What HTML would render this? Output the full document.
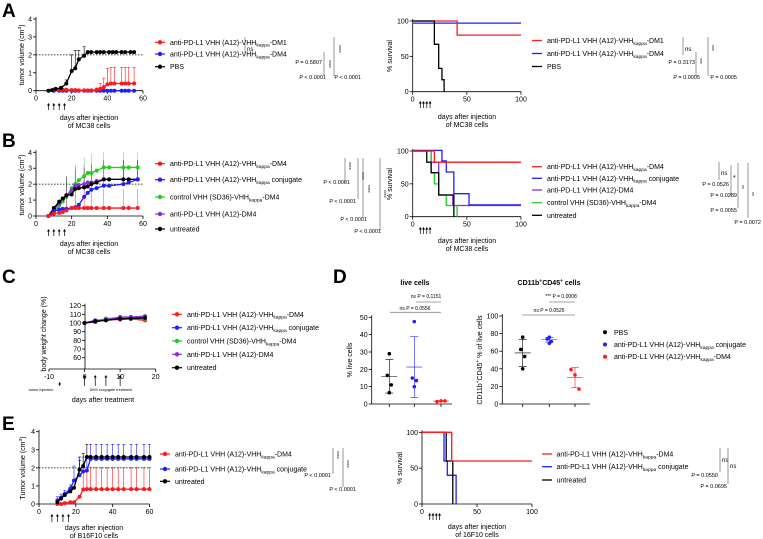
<!DOCTYPE html>
<html><head><meta charset="utf-8"><style>
html,body{margin:0;padding:0;background:#fff}
svg{display:block;font-family:"Liberation Sans",sans-serif}
</style></head><body>
<svg id="fig" width="763" height="539" viewBox="0 0 763 539">
<text x="2" y="17" font-size="19" font-weight="bold">A</text>
<text x="2" y="147" font-size="19" font-weight="bold">B</text>
<text x="2" y="283" font-size="19" font-weight="bold">C</text>
<text x="333" y="283" font-size="19" font-weight="bold">D</text>
<text x="2" y="430" font-size="19" font-weight="bold">E</text>
</svg>
<script>
// ---------- DATA ----------
const A_pbs_days=[7,9,11,14,17,20,22,24,27,29,31,34,36,38,41,43,45,48,50,53,55];
const A_pbs_vals=[0,0.03,0.1,0.15,0.4,1.1,1.25,1.75,1.95,2.15,2.15,2.15,2.15,2.15,2.15,2.15,2.15,2.15,2.15,2.15,2.15];
const A_pbs_err=[0,0,0,0.1,0.2,0.9,1.0,0.5,0.5,0,0,0,0,0,0,0,0,0,0,0,0];
const A_dm1_days=[10,13,15,17,20,22,24,27,29,31,34,36,38,40,42,44,48,50,52,55];
const A_dm1_vals=[0.05,0.05,0.05,0.05,0.03,0.03,0.02,0.02,0.02,0.02,0.05,0.1,0.2,0.35,0.4,0.4,0.4,0.4,0.4,0.4];
const A_dm1_err=[0,0,0,0,0,0,0,0,0,0,0.1,0.3,0.5,0.9,0.9,0.9,0.9,0.9,0.9,0.9];
const A_dm4_days=[10,13,15,17,20,22,24,27,29,31,34,36,38,40,42,44,48,50,52,55];
const A_dm4_vals=[0,0,0,0,0,0,0,0,0,0,0,0,0,0,0,0,0,0,0,0];
const A_surv_dm1_t=[0,41,100]; const A_surv_dm1_v=[100,80,80];
const A_surv_dm4_t=[0,100]; const A_surv_dm4_v=[97,97];
const A_surv_pbs_t=[0,20,24,27,29]; const A_surv_pbs_v=[100,67,33,17,0];

const B_days=[7,10,13,15,17,20,22,24,27,29,31,34,38,41,49,52,57];
const B_red=[0,0.15,0.2,0.25,0.35,0.5,0.5,0.5,0.5,0.5,0.5,0.5,0.5,0.5,0.5,0.5,0.5];
const B_blue=[0,0.3,0.4,0.45,0.45,0.5,0.55,0.7,1.2,1.45,1.65,1.75,1.9,1.9,2.0,2.1,2.3];
const B_green=[0,0.3,0.65,0.9,1.2,1.75,2.0,2.25,2.5,2.7,2.7,2.85,3.05,3.05,3.05,3.05,3.05];
const B_purple=[0,0.4,0.8,1.1,1.25,1.6,1.9,1.95,2.0,2.1,2.1,2.2,2.3,2.3,2.3,2.3,2.3];
const B_black=[0,0.5,0.9,1.1,1.3,1.35,1.7,1.75,1.8,1.85,2.0,2.1,2.3,2.3,2.3,2.3,2.3];
const B_surv_red_t=[0,20,100]; const B_surv_red_v=[100,83,83];
const B_surv_blue_t=[0,27,31,38,52,100]; const B_surv_blue_v=[101,85,68,35,18,18];
const B_surv_purple_t=[0,17,24,37,100]; const B_surv_purple_v=[100,83,33,17,17];
const B_surv_green_t=[0,17,20,24,31,41]; const B_surv_green_v=[100,67,50,33,17,0];
const B_surv_black_t=[0,13,17,24,38]; const B_surv_black_v=[100,83,67,33,0];

const C_days=[0,3,6,10,13,17];
const C_red=[100,101,104,104,105,103];
const C_blue=[100,103,104,105,106,106];
const C_green=[100,102,105,106,105,105];
const C_purple=[100,102,104,107,107,108];
const C_black=[100,102,103,105,105,106];

const D_live_pbs=[29,16.5,11,6.5]; const D_live_pbs_mean=16; const D_live_pbs_sd=9.7;
const D_live_conj=[47.5,15,13.5,10]; const D_live_conj_mean=21.3; const D_live_conj_sd=17.5;
const D_live_dm4=[1.4,1.8,1.8]; const D_live_dm4_mean=1.7; const D_live_dm4_sd=0.2;
const D_cd_pbs=[76,62,54,40]; const D_cd_pbs_mean=58; const D_cd_pbs_sd=15.5;
const D_cd_conj=[76,74,71,69]; const D_cd_conj_mean=73; const D_cd_conj_sd=2.5;
const D_cd_dm4=[39,33,17]; const D_cd_dm4_mean=30; const D_cd_dm4_sd=11.5;

const E_days=[10,12,14,17,19,22,24,26,28,31,34,37,40,43,46,50,53,57,60];
const E_red=[0,0,0.05,0.1,0.1,0.4,0.8,0.82,0.82,0.82,0.82,0.82,0.82,0.82,0.82,0.82,0.82,0.82,0.82];
const E_blue=[0.2,0.35,0.55,0.85,1.3,1.6,1.8,1.85,2.5,2.5,2.5,2.5,2.5,2.5,2.5,2.5,2.5,2.5,2.5];
const E_black=[0.1,0.3,0.5,0.7,0.9,1.9,2.1,2.6,2.6,2.6,2.6,2.6,2.6,2.6,2.6,2.6,2.6,2.6,2.6];
const E_surv_red_t=[0,27,100]; const E_surv_red_v=[100,60,60];
const E_surv_blue_t=[0,20,23,31]; const E_surv_blue_v=[100,60,40,0];
const E_surv_black_t=[0,22,28]; const E_surv_black_v=[100,60,0];

const RED='#ff1a1a',BLUE='#1f1fff',GREEN='#22cc22',PURPLE='#8a2be2',BLACK='#000';

// ---------- HELPERS ----------
const NS='http://www.w3.org/2000/svg';
const svg=document.getElementById('fig');
function mk(tag,attrs,parent,name){
  const e=document.createElementNS(NS,tag);
  for(const k in attrs)e.setAttribute(k,attrs[k]);
  
  
  (parent||svg).appendChild(e);return e;
}
function txt(x,y,s,size,parent,name,anchor,extra){
  size=size||7;
  const t=mk('text',Object.assign({x:x,y:y,'font-size':size,'text-anchor':anchor||'start',fill:'#000'},extra||{}),parent,name);
  const parts=s.split(/(\{[^}]*\})/);
  let shift=0;
  parts.forEach(p=>{
    if(!p)return;
    const ts=document.createElementNS(NS,'tspan');
    let target=0;
    if(p[0]=='{'){
      const inner=p.slice(1,-1);
      const sup=inner[0]=='^';
      ts.textContent=sup?inner.slice(1):inner;
      ts.setAttribute('font-size',size*0.7);
      target=sup?-size*0.4:size*0.25;
    }else ts.textContent=p;
    if(target!==shift){ts.setAttribute('dy',target-shift);shift=target;}
    t.appendChild(ts);
  });
  return t;
}
function line(x1,y1,x2,y2,parent,name,stroke,w,dash){
  const a={x1:x1,y1:y1,x2:x2,y2:y2,stroke:stroke||'#000','stroke-width':w||0.8};
  if(dash)a['stroke-dasharray']=dash;
  return mk('line',a,parent,name);
}
function scales(c){
  return {sx:v=>c.x0+(v-c.xmin)/(c.xmax-c.xmin)*(c.x1-c.x0),
          sy:v=>c.y0-(v-c.ymin)/(c.ymax-c.ymin)*(c.y0-c.y1)};
}
function axes(c,g,prefix){
  const s=scales(c);
  const ax=c.yAxisX!==undefined?c.yAxisX:c.x0;
  const yb=c.axisBottom!==undefined?c.axisBottom:c.y0;
  line(ax,yb,ax,c.y1-2,g,prefix+'-y-axis');
  line(c.x0,yb,c.x1,yb,g,prefix+'-x-axis');
  c.yticks.forEach(v=>{const y=s.sy(v);line(ax-3,y,ax,y,g,prefix+'-y-tick');
    txt(ax-4,y+2.5,String(v),7,g,prefix+'-y-tick-label','end');});
  (c.xticks||[]).forEach(v=>{const x=s.sx(v);line(x,yb,x,yb+3,g,prefix+'-x-tick');
    txt(x,yb+10,String(v),7,g,prefix+'-x-tick-label','middle');});
  return s;
}
function series(s,g,days,vals,err,color,name){
  const pts=days.map((d,i)=>s.sx(d)+','+s.sy(vals[i])).join(' ');
  if(err)days.forEach((d,i)=>{if(err[i]>0){const x=s.sx(d),y=s.sy(vals[i]),yt=s.sy(vals[i]+err[i]);
    line(x,y,x,yt,g,name+'-error-bar',color,0.6);line(x-1.5,yt,x+1.5,yt,g,name+'-error-cap',color,0.6);}});
  mk('polyline',{points:pts,fill:'none',stroke:color,'stroke-width':1.3},g,name+'-line');
  days.forEach((d,i)=>mk('circle',{cx:s.sx(d),cy:s.sy(vals[i]),r:2,fill:color},g,name+'-point'));
}
function steps(s,g,t,v,color,name){
  let d='M'+s.sx(t[0])+','+s.sy(v[0]);
  for(let i=1;i<t.length;i++){d+=' H'+s.sx(t[i])+' V'+s.sy(v[i]);}
  if(v[v.length-1]>0)d+=' H'+s.sx(100);
  mk('path',{d:d,fill:'none',stroke:color,'stroke-width':1.3},g,name);
}
function arrows(s,g,days,yTop,yBot){
  days.forEach(d=>{const x=s.sx(d);line(x,yBot,x,yTop+2,g,'treatment-arrow',BLACK,0.7);
    mk('path',{d:`M${x-1.5},${yTop+2.5} L${x},${yTop} L${x+1.5},${yTop+2.5} Z`,fill:'#000'},g,'treatment-arrow-head');});
}
function legendMarker(g,x,y,color,name,text,tx){
  line(x-5,y,x+5,y,g,name+'-line',color,1.2);
  mk('circle',{cx:x,cy:y,r:2.2,fill:color},g,name+'-marker');
  txt(tx,y+2.5,text,7,g,name+'-label');
}
function legendLine(g,x,y,color,name,text,tx){
  line(x,y,x+10,y,g,name+'-line',color,1.3);
  txt(tx,y+2.5,text,7,g,name+'-label');
}
function ytitle(x,y,s,g,name){txt(x,y,s,7,g,name,'middle',{transform:`rotate(-90 ${x} ${y})`});}
function bracket(g,x,y1,y2,name){line(x,y1,x,y2,g,name,'#555',0.6);}

// ---------- PANEL A ----------
const gA=mk('g',{},svg,'panel-a-tumor-volume');
const sA=axes({x0:36,x1:143,xmin:0,xmax:60,y0:90.7,y1:19,ymin:0,ymax:4,yticks:[0,1,2,3,4],xticks:[0,20,40,60]},gA,'a-tumor');
line(36,sA.sy(2),143,sA.sy(2),gA,'threshold-line','#000',0.8,'1.5,1.5');
series(sA,gA,A_dm4_days,A_dm4_vals,null,BLUE,'a-dm4');
series(sA,gA,A_dm1_days,A_dm1_vals,A_dm1_err,RED,'a-dm1');
series(sA,gA,A_pbs_days,A_pbs_vals,A_pbs_err,BLACK,'a-pbs');
arrows(sA,gA,[7,10,13,16],103,110);
ytitle(24,55,'tumor volume (cm{^3})',gA,'a-y-axis-title');
txt(89,120,'days after injection',7,gA,'a-x-axis-title','middle');
txt(89,128,'of MC38 cells',7,gA,'a-x-axis-title-2','middle');
legendMarker(gA,160,42.3,RED,'a-legend-dm1','anti-PD-L1 VHH (A12)-VHH{kappa}-DM1',170);
legendMarker(gA,160,54,BLUE,'a-legend-dm4','anti-PD-L1 VHH (A12)-VHH{kappa}-DM4',170);
legendMarker(gA,160,66.7,BLACK,'a-legend-pbs','PBS',170);
bracket(gA,245,37,55,'a-stat-ns');txt(247,51,'ns',6,gA,'a-stat-ns-label');
bracket(gA,324,52,76,'a-stat-1');txt(327,60,'****',5,gA,'a-stat-stars-1','start',{transform:'rotate(90 327 60)'});
bracket(gA,334,37,76,'a-stat-2');txt(337,45,'****',5,gA,'a-stat-stars-2','start',{transform:'rotate(90 337 45)'});
txt(322,64,'P = 0.5807',5.5,gA,'a-stat-p1','end');
txt(326,79,'P < 0.0001',5.5,gA,'a-stat-p2','end');
txt(361,79,'P < 0.0001',5.5,gA,'a-stat-p3','end');

const gAS=mk('g',{},svg,'panel-a-survival');
const sAS=axes({x0:412.7,x1:521,xmin:0,xmax:100,y0:91.7,y1:21,ymin:0,ymax:100,yticks:[0,50,100],xticks:[0,50,100]},gAS,'a-surv');
steps(sAS,gAS,A_surv_dm4_t,A_surv_dm4_v,BLUE,'a-surv-dm4');
steps(sAS,gAS,A_surv_dm1_t,A_surv_dm1_v,RED,'a-surv-dm1');
steps(sAS,gAS,A_surv_pbs_t,A_surv_pbs_v,BLACK,'a-surv-pbs');
arrows(sAS,gAS,[7,10,13,16],101,108);
ytitle(392,56,'% survival',gAS,'a-surv-y-axis-title');
txt(467,119,'days after injection',7,gAS,'a-surv-x-title','middle');
txt(467,127,'of MC38 cells',7,gAS,'a-surv-x-title-2','middle');
legendLine(gAS,532,40.5,RED,'a-surv-legend-dm1','anti-PD-L1 VHH (A12)-VHH{kappa}-DM1',547);
legendLine(gAS,532,53.5,BLUE,'a-surv-legend-dm4','anti-PD-L1 VHH (A12)-VHH{kappa}-DM4',547);
legendLine(gAS,532,66.5,BLACK,'a-surv-legend-pbs','PBS',547);
bracket(gAS,683,37,55,'a-surv-stat-ns');txt(685,51,'ns',6,gAS,'a-surv-ns');
bracket(gAS,696,52,76,'a-surv-stat-1');txt(698,58,'***',5,gAS,'a-surv-stars1','start',{transform:'rotate(90 698 58)'});
bracket(gAS,708,37,76,'a-surv-stat-2');txt(710,45,'***',5,gAS,'a-surv-stars2','start',{transform:'rotate(90 710 45)'});
txt(695,64,'P = 0.3173',5.5,gAS,'a-surv-p1','end');
txt(700,79,'P = 0.0005',5.5,gAS,'a-surv-p2','end');
txt(737,79,'P = 0.0005',5.5,gAS,'a-surv-p3','end');

// ---------- PANEL B ----------
const gB=mk('g',{},svg,'panel-b-tumor-volume');
const sB=axes({x0:36,x1:143,xmin:0,xmax:60,y0:216,y1:152.3,ymin:0,ymax:4,yticks:[0,1,2,3,4],xticks:[0,20,40,60]},gB,'b-tumor');
line(36,sB.sy(2),143,sB.sy(2),gB,'b-threshold-line','#000',0.8,'1.5,1.5');
const Bser=[[B_green,GREEN,'b-green'],[B_purple,PURPLE,'b-purple'],[B_black,BLACK,'b-black'],[B_blue,BLUE,'b-blue'],[B_red,RED,'b-red']];
Bser.forEach(([v,c,n])=>{B_days.forEach((d,i)=>{if(i>3&&i%2==0){const x=sB.sx(d);line(x,sB.sy(v[i]),x,sB.sy(Math.min(4,v[i]+1.2)),gB,n+'-error-bar',c,0.4);}});});
Bser.forEach(([v,c,n])=>series(sB,gB,B_days,v,null,c,n));
arrows(sB,gB,[7,10,13,16],229,236);
ytitle(24,185,'tumor volume (cm{^3})',gB,'b-y-axis-title');
txt(89,246,'days after injection',7,gB,'b-x-axis-title','middle');
txt(89,254,'of MC38 cells',7,gB,'b-x-axis-title-2','middle');
legendMarker(gB,160,163.7,RED,'b-legend-dm4','anti-PD-L1 VHH (A12)-VHH{kappa}-DM4',170);
legendMarker(gB,160,179.7,BLUE,'b-legend-conj','anti-PD-L1 VHH (A12)-VHH{kappa} conjugate',170);
legendMarker(gB,160,197,GREEN,'b-legend-control','control VHH (SD36)-VHH{kappa}-DM4',170);
legendMarker(gB,160,214,PURPLE,'b-legend-a12dm4','anti-PD-L1 VHH (A12)-DM4',170);
legendMarker(gB,160,229,BLACK,'b-legend-untreated','untreated',170);
bracket(gB,345,158,183,'b-stat-1');bracket(gB,358,158,199,'b-stat-2');bracket(gB,363,158,218,'b-stat-3');bracket(gB,380,158,231,'b-stat-4');
[[347,162],[360,172],[366,185],[382,190]].forEach(([x,y],i)=>txt(x,y,'****',5,gB,'b-stat-stars','start',{transform:`rotate(90 ${x} ${y})`}));
txt(350,184,'P < 0.0001',5.5,gB,'b-stat-p1','end');
txt(356,203,'P < 0.0001',5.5,gB,'b-stat-p2','end');
txt(367,221,'P < 0.0001',5.5,gB,'b-stat-p3','end');
txt(381,233,'P < 0.0001',5.5,gB,'b-stat-p4','end');

const gBS=mk('g',{},svg,'panel-b-survival');
const sBS=axes({x0:412.7,x1:521,xmin:0,xmax:100,y0:216.7,y1:151,ymin:0,ymax:100,yticks:[0,50,100],xticks:[0,50,100]},gBS,'b-surv');
steps(sBS,gBS,B_surv_purple_t,B_surv_purple_v,PURPLE,'b-surv-purple');
steps(sBS,gBS,B_surv_green_t,B_surv_green_v,GREEN,'b-surv-green');
steps(sBS,gBS,B_surv_blue_t,B_surv_blue_v,BLUE,'b-surv-blue');
steps(sBS,gBS,B_surv_black_t,B_surv_black_v,BLACK,'b-surv-black');
steps(sBS,gBS,B_surv_red_t,B_surv_red_v,RED,'b-surv-red');
arrows(sBS,gBS,[7,10,13,16],227,234);
ytitle(392,184,'% survival',gBS,'b-surv-y-axis-title');
txt(467,243,'days after injection',7,gBS,'b-surv-x-title','middle');
txt(467,251,'of MC38 cells',7,gBS,'b-surv-x-title-2','middle');
legendLine(gBS,532,166.7,RED,'b-surv-legend-dm4','anti-PD-L1 VHH (A12)-VHH{kappa}-DM4',547);
legendLine(gBS,532,178.3,BLUE,'b-surv-legend-conj','anti-PD-L1 VHH (A12)-VHH{kappa} conjugate',547);
legendLine(gBS,532,190,PURPLE,'b-surv-legend-a12dm4','anti-PD-L1 VHH (A12)-DM4',547);
legendLine(gBS,532,202.7,GREEN,'b-surv-legend-control','control VHH (SD36)-VHH{kappa}-DM4',547);
legendLine(gBS,532,215.3,BLACK,'b-surv-legend-untreated','untreated',547);
bracket(gBS,719,162,180,'b-surv-stat-1');txt(721,175,'ns',6,gBS,'b-surv-ns');
bracket(gBS,731,165,196,'b-surv-stat-2');txt(733,180,'*',7,gBS,'b-surv-star');
bracket(gBS,738,163,208,'b-surv-stat-3');txt(740,185,'**',5,gBS,'b-surv-stars3','start',{transform:'rotate(90 740 185)'});
bracket(gBS,748,163,218,'b-surv-stat-4');txt(750,192,'**',5,gBS,'b-surv-stars4','start',{transform:'rotate(90 750 192)'});
txt(729,186,'P = 0.0526',5.5,gBS,'b-surv-p1','end');
txt(737,197,'P = 0.0289',5.5,gBS,'b-surv-p2','end');
txt(737,212,'P = 0.0055',5.5,gBS,'b-surv-p3','end');
txt(761,224,'P = 0.0072',5.5,gBS,'b-surv-p4','end');

// ---------- PANEL C ----------
const gC=mk('g',{},svg,'panel-c-body-weight');
const cC={x0:49,x1:155.7,xmin:-10,xmax:20,y0:357.7,y1:305.7,ymin:60,ymax:120,yticks:[60,70,80,90,100,110,120],xticks:[-10,0,10,20],yAxisX:85,axisBottom:369};
const sC=axes(cC,gC,'c');
[[C_red,RED,'c-red'],[C_blue,BLUE,'c-blue'],[C_green,GREEN,'c-green'],[C_purple,PURPLE,'c-purple'],[C_black,BLACK,'c-black']].forEach(([v,c,n])=>series(sC,gC,C_days,v,[0,0,2,1.5,1.5,1],c,n));
arrows(sC,gC,[-7],382,386);
arrows(sC,gC,[0,3,6,10],375,386);
txt(41,391,'tumor injection',3.8,gC,'c-tumor-injection-label','middle');
txt(111,391,'DM4 conjugate treatment',3.8,gC,'c-treatment-label','middle');
txt(103,402,'days after treatment',7,gC,'c-x-axis-title','middle');
ytitle(46,334,'body weight change (%)',gC,'c-y-axis-title');
legendMarker(gC,177,314.3,RED,'c-legend-dm4','anti-PD-L1 VHH (A12)-VHH{kappa}-DM4',187);
legendMarker(gC,177,327.7,BLUE,'c-legend-conj','anti-PD-L1 VHH (A12)-VHH{kappa} conjugate',187);
legendMarker(gC,177,341,GREEN,'c-legend-control','control VHH (SD36)-VHH{kappa}-DM4',187);
legendMarker(gC,177,354.3,PURPLE,'c-legend-a12dm4','anti-PD-L1 VHH (A12)-DM4',187);
legendMarker(gC,177,367.7,BLACK,'c-legend-untreated','untreated',187);

// ---------- PANEL D ----------
function dotPanel(g,c,groups,prefix){
  const sy=v=>c.y0-(v-c.ymin)/(c.ymax-c.ymin)*(c.y0-c.y1);
  line(c.ax,c.y0,c.ax,c.y1-2,g,prefix+'-y-axis');
  line(c.ax,c.y0,c.xend,c.y0,g,prefix+'-x-axis');
  c.yticks.forEach(v=>{line(c.ax-3,sy(v),c.ax,sy(v),g,prefix+'-y-tick');txt(c.ax-4,sy(v)+2.5,String(v),7,g,prefix+'-y-tick-label','end');});
  groups.forEach(([vals,mean,sd,color,x],i)=>{
    line(x,c.y0,x,c.y0+3,g,prefix+'-x-tick');
    const light=color;
    line(x,sy(mean+sd),x,sy(Math.max(0,mean-sd)),g,prefix+'-sd-bar',light,0.6);
    line(x-4,sy(mean+sd),x+4,sy(mean+sd),g,prefix+'-sd-cap',light,0.6);
    line(x-4,sy(Math.max(0,mean-sd)),x+4,sy(Math.max(0,mean-sd)),g,prefix+'-sd-cap',light,0.6);
    line(x-8,sy(mean),x+8,sy(mean),g,prefix+'-mean-line',light,0.6);
    vals.forEach((v,j)=>{const off=vals.length==4?[0,-2,2,0][j]:[-4,0,4][j];
      mk('circle',{cx:x+off,cy:sy(v),r:1.8,fill:color},g,prefix+'-point');});
  });
}
const gD1=mk('g',{},svg,'panel-d-live-cells');
dotPanel(gD1,{ax:371.7,y0:404,y1:317.3,ymin:0,ymax:50,yticks:[0,10,20,30,40,50],xend:452},
 [[D_live_pbs,D_live_pbs_mean,D_live_pbs_sd,BLACK,389.3],[D_live_conj,D_live_conj_mean,D_live_conj_sd,BLUE,414.3],[D_live_dm4,D_live_dm4_mean,D_live_dm4_sd,RED,441]],'d-live');
txt(415,285,'live cells',7,gD1,'d-live-title','middle',{'font-weight':'bold'});
ytitle(352,360,'% live cells',gD1,'d-live-y-axis-title');
line(390,312.3,441,312.3,gD1,'d-live-bracket-1','#888',0.8);txt(415,310,'ns P = 0.0556',5,gD1,'d-live-p1','middle');
line(416,302,441,302,gD1,'d-live-bracket-2','#888',0.8);txt(426,298,'ns P = 0.1151',5,gD1,'d-live-p2','middle');

const gD2=mk('g',{},svg,'panel-d-cd11b-cells');
dotPanel(gD2,{ax:502.3,y0:404,y1:316,ymin:0,ymax:100,yticks:[0,20,40,60,80,100],xend:590},
 [[D_cd_pbs,D_cd_pbs_mean,D_cd_pbs_sd,BLACK,522.7],[D_cd_conj,D_cd_conj_mean,D_cd_conj_sd,BLUE,549.3],[D_cd_dm4,D_cd_dm4_mean,D_cd_dm4_sd,RED,575]],'d-cd');
txt(549,285,'CD11b{^+}CD45{^+} cells',7,gD2,'d-cd-title','middle',{'font-weight':'bold'});
ytitle(482,360,'CD11b{^+}CD45{^+} % of live cells',gD2,'d-cd-y-axis-title');
line(522,315,575,315,gD2,'d-cd-bracket-1','#888',0.8);txt(549,312,'ns P = 0.0525',5,gD2,'d-cd-p1','middle');
line(549,302,575,302,gD2,'d-cd-bracket-2','#888',0.8);txt(561,298,'*** P = 0.0008',5,gD2,'d-cd-p2','middle');
const gDL=mk('g',{},svg,'panel-d-legend');
[[332.3,BLACK,'PBS'],[344.5,BLUE,'anti-PD-L1 VHH (A12)-VHH{kappa} conjugate'],[356.7,RED,'anti-PD-L1 VHH (A12)-VHH{kappa}-DM4']].forEach(([y,c,t],i)=>{
  mk('circle',{cx:605,cy:y,r:2,fill:c},gDL,'d-legend-dot');txt(614,y+2.5,t,7,gDL,'d-legend-label');});

// ---------- PANEL E ----------
const gE=mk('g',{},svg,'panel-e-tumor-volume');
const sE=axes({x0:39,x1:149.5,xmin:0,xmax:60,y0:504,y1:431.7,ymin:0,ymax:4,yticks:[0,1,2,3,4],xticks:[0,20,40,60]},gE,'e-tumor');
line(39,sE.sy(2),149.5,sE.sy(2),gE,'e-threshold-line','#000',0.8,'1.5,1.5');
series(sE,gE,E_days,E_red,E_days.map((d,i)=>i>5?1.2:0),RED,'e-red');
series(sE,gE,E_days,E_blue,E_days.map((d,i)=>i>3?0.8:0.2),BLUE,'e-blue');
series(sE,gE,E_days,E_black,E_days.map((d,i)=>i>4&&i<8?0.7:0),BLACK,'e-black');
arrows(sE,gE,[7,10,13,16],514,522);
ytitle(25,468,'Tumor volume (cm{^3})',gE,'e-y-axis-title');
txt(94,530,'days after injection',7,gE,'e-x-axis-title','middle');
txt(94,538,'of B16F10 cells',7,gE,'e-x-axis-title-2','middle');
legendMarker(gE,165,454,RED,'e-legend-dm4','anti-PD-L1 VHH (A12)-VHH{kappa}-DM4',175);
legendMarker(gE,165,469,BLUE,'e-legend-conj','anti-PD-L1 VHH (A12)-VHH{kappa} conjugate',175);
legendMarker(gE,165,481.3,BLACK,'e-legend-untreated','untreated',175);
bracket(gE,333,448,474,'e-stat-1');txt(335,451,'****',5,gE,'e-stars1','start',{transform:'rotate(90 335 451)'});
bracket(gE,343,448,487,'e-stat-2');txt(345,460,'****',5,gE,'e-stars2','start',{transform:'rotate(90 345 460)'});
txt(331,477,'P < 0.0001',5.5,gE,'e-p1','end');
txt(356,491,'P < 0.0001',5.5,gE,'e-p2','end');

const gES=mk('g',{},svg,'panel-e-survival');
const sES=axes({x0:422,x1:532,xmin:0,xmax:100,y0:504,y1:432.3,ymin:0,ymax:100,yticks:[0,50,100],xticks:[0,50,100]},gES,'e-surv');
steps(sES,gES,E_surv_blue_t,E_surv_blue_v,BLUE,'e-surv-blue');
steps(sES,gES,E_surv_black_t,E_surv_black_v,BLACK,'e-surv-black');
steps(sES,gES,E_surv_red_t,E_surv_red_v,RED,'e-surv-red');
arrows(sES,gES,[7,10,13,16],513,520);
ytitle(402,468,'% survival',gES,'e-surv-y-axis-title');
txt(477,529,'days after injection',7,gES,'e-surv-x-title','middle');
txt(477,537,'of 16F10 cells',7,gES,'e-surv-x-title-2','middle');
legendLine(gES,542,454,RED,'e-surv-legend-dm4','anti-PD-L1 VHH (A12)-VHH{kappa}-DM4',556.5);
legendLine(gES,542,466.7,BLUE,'e-surv-legend-conj','anti-PD-L1 VHH (A12)-VHH{kappa} conjugate',556.5);
legendLine(gES,542,480,BLACK,'e-surv-legend-untreated','untreated',556.5);
bracket(gES,720,448,472,'e-surv-stat-1');txt(722,462,'ns',6,gES,'e-surv-ns1');
bracket(gES,728,448,484,'e-surv-stat-2');txt(730,468,'ns',6,gES,'e-surv-ns2');
txt(718,477,'P = 0.0550',5.5,gES,'e-surv-p1','end');
txt(727,488,'P = 0.0695',5.5,gES,'e-surv-p2','end');
</script>
</body></html>
